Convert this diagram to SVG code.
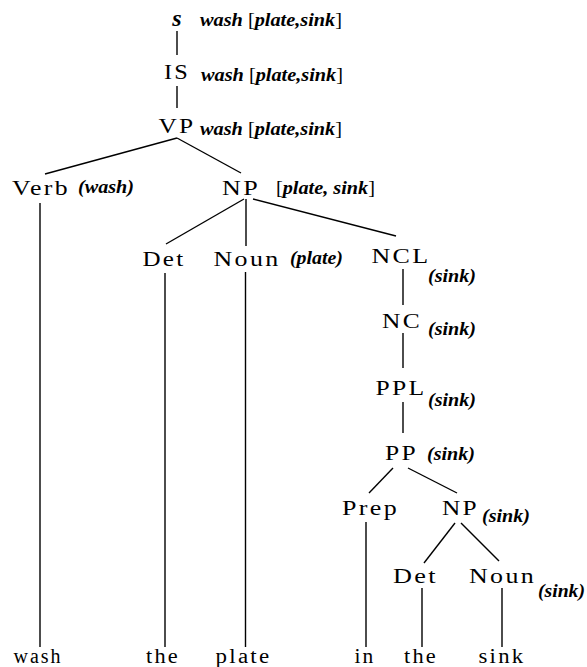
<svg xmlns="http://www.w3.org/2000/svg" width="587" height="667" viewBox="0 0 587 667">
  <style>
    text { font-family: 'Liberation Serif', 'Times New Roman', serif; fill: #000; }
    .node { font-size: 22px; letter-spacing: 2px; text-anchor: middle; }
    .word { font-size: 20px; letter-spacing: 2px; text-anchor: middle; }
    .sem { font-size: 18px; font-weight: bold; font-style: italic; }
    .root { font-size: 24px; font-weight: bold; font-style: italic; text-anchor: middle; }
    .br { font-weight: normal; font-style: normal; }
    .edges line { stroke: #000; stroke-width: 1.4; }
  </style>
  <rect width="587" height="667" fill="#fff"/>

  <!-- tree branches -->
  <g class="edges" id="edges">
    <line x1="177" y1="31" x2="177" y2="55"/>
    <line x1="177" y1="86" x2="177" y2="108"/>
    <line x1="177" y1="138" x2="45" y2="174"/>
    <line x1="177" y1="138" x2="241" y2="173"/>
    <line x1="40" y1="203" x2="40" y2="647"/>
    <line x1="244" y1="199" x2="166" y2="244"/>
    <line x1="246" y1="199" x2="246" y2="246"/>
    <line x1="253" y1="199" x2="396" y2="236"/>
    <line x1="165" y1="273" x2="165" y2="647"/>
    <line x1="245.5" y1="272" x2="245.5" y2="647"/>
    <line x1="403" y1="269" x2="403" y2="305"/>
    <line x1="403" y1="333" x2="403" y2="368"/>
    <line x1="403" y1="402" x2="403" y2="433"/>
    <line x1="393" y1="468" x2="369" y2="493"/>
    <line x1="408" y1="468" x2="457" y2="493"/>
    <line x1="366" y1="522" x2="366" y2="647"/>
    <line x1="455" y1="523" x2="424" y2="563"/>
    <line x1="461" y1="523" x2="499" y2="561"/>
    <line x1="422" y1="588" x2="422" y2="647"/>
    <line x1="502" y1="588" x2="502" y2="647"/>
  </g>

  <!-- phrase nodes with their semantic annotations -->
  <g id="s">
    <text class="root" x="177" y="26">s</text>
    <text class="sem" x="200" y="26" textLength="142" lengthAdjust="spacingAndGlyphs">wash <tspan class="br">[</tspan>plate,sink<tspan class="br">]</tspan></text>
  </g>
  <g id="is">
    <text class="node" x="177" y="79" textLength="26" lengthAdjust="spacingAndGlyphs">IS</text>
    <text class="sem" x="201" y="81" textLength="142" lengthAdjust="spacingAndGlyphs">wash <tspan class="br">[</tspan>plate,sink<tspan class="br">]</tspan></text>
  </g>
  <g id="vp">
    <text class="node" x="177" y="133" textLength="37" lengthAdjust="spacingAndGlyphs">VP</text>
    <text class="sem" x="200" y="135" textLength="142" lengthAdjust="spacingAndGlyphs">wash <tspan class="br">[</tspan>plate,sink<tspan class="br">]</tspan></text>
  </g>
  <g id="verb">
    <text class="node" x="41" y="195" textLength="58" lengthAdjust="spacingAndGlyphs">Verb</text>
    <text class="sem" x="78" y="193" textLength="56" lengthAdjust="spacingAndGlyphs">(wash)</text>
  </g>
  <g id="np1">
    <text class="node" x="241" y="195" textLength="38" lengthAdjust="spacingAndGlyphs">NP</text>
    <text class="sem" x="276" y="194" textLength="99" lengthAdjust="spacingAndGlyphs"><tspan class="br">[</tspan>plate, sink<tspan class="br">]</tspan></text>
  </g>
  <g id="det1">
    <text class="node" x="164" y="266" textLength="43" lengthAdjust="spacingAndGlyphs">Det</text>
  </g>
  <g id="noun1">
    <text class="node" x="247" y="266" textLength="67" lengthAdjust="spacingAndGlyphs">Noun</text>
    <text class="sem" x="290" y="264" textLength="53" lengthAdjust="spacingAndGlyphs">(plate)</text>
  </g>
  <g id="ncl">
    <text class="node" x="401" y="263" textLength="59" lengthAdjust="spacingAndGlyphs">NCL</text>
    <text class="sem" x="428" y="282" textLength="48" lengthAdjust="spacingAndGlyphs">(sink)</text>
  </g>
  <g id="nc">
    <text class="node" x="402" y="328" textLength="40" lengthAdjust="spacingAndGlyphs">NC</text>
    <text class="sem" x="428" y="335" textLength="48" lengthAdjust="spacingAndGlyphs">(sink)</text>
  </g>
  <g id="ppl">
    <text class="node" x="401" y="395" textLength="51" lengthAdjust="spacingAndGlyphs">PPL</text>
    <text class="sem" x="428" y="406" textLength="48" lengthAdjust="spacingAndGlyphs">(sink)</text>
  </g>
  <g id="pp">
    <text class="node" x="401.5" y="460" textLength="33" lengthAdjust="spacingAndGlyphs">PP</text>
    <text class="sem" x="427" y="460" textLength="48" lengthAdjust="spacingAndGlyphs">(sink)</text>
  </g>
  <g id="prep">
    <text class="node" x="370.5" y="515" textLength="57" lengthAdjust="spacingAndGlyphs">Prep</text>
  </g>
  <g id="np2">
    <text class="node" x="460.5" y="515" textLength="37" lengthAdjust="spacingAndGlyphs">NP</text>
    <text class="sem" x="482" y="522" textLength="48" lengthAdjust="spacingAndGlyphs">(sink)</text>
  </g>
  <g id="det2">
    <text class="node" x="415.5" y="583" textLength="45" lengthAdjust="spacingAndGlyphs">Det</text>
  </g>
  <g id="noun2">
    <text class="node" x="502.5" y="583" textLength="67" lengthAdjust="spacingAndGlyphs">Noun</text>
    <text class="sem" x="538" y="597" textLength="47" lengthAdjust="spacingAndGlyphs">(sink)</text>
  </g>

  <!-- terminal words -->
  <g id="words">
    <text class="word" x="38" y="663" textLength="49" lengthAdjust="spacingAndGlyphs">wash</text>
    <text class="word" x="163" y="663" textLength="34" lengthAdjust="spacingAndGlyphs">the</text>
    <text class="word" x="243.5" y="663" textLength="56" lengthAdjust="spacingAndGlyphs">plate</text>
    <text class="word" x="365" y="663" textLength="21" lengthAdjust="spacingAndGlyphs">in</text>
    <text class="word" x="421" y="663" textLength="34" lengthAdjust="spacingAndGlyphs">the</text>
    <text class="word" x="502" y="663" textLength="47" lengthAdjust="spacingAndGlyphs">sink</text>
  </g>
</svg>
